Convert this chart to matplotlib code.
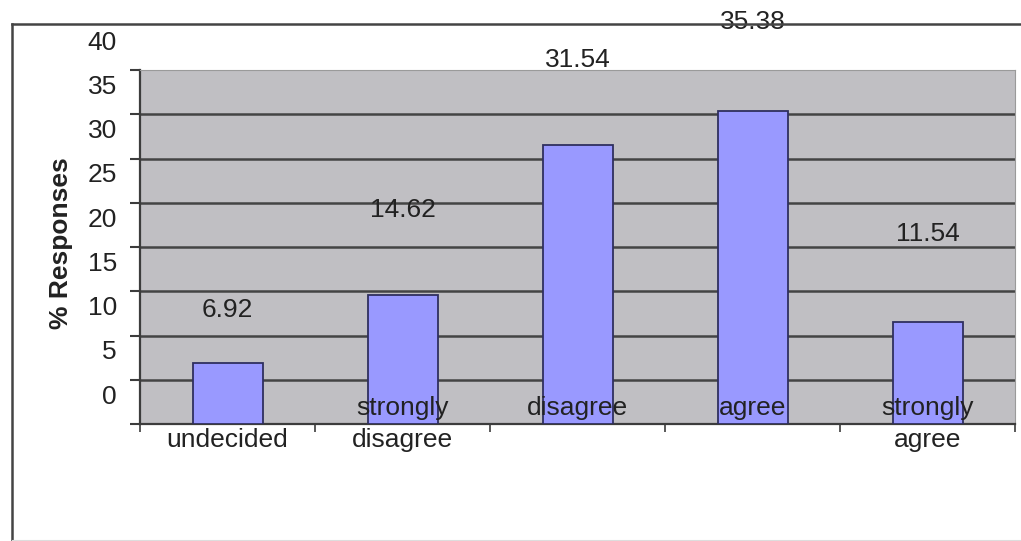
import numpy as np
import matplotlib
matplotlib.use('Agg')
import matplotlib.pyplot as plt
from matplotlib.lines import Line2D
from matplotlib.transforms import blended_transform_factory

# survey responses (% of respondents)
categories = ['undecided', 'strongly\ndisagree', 'disagree', 'agree', 'strongly\nagree']
responses = [6.92, 14.62, 31.54, 35.38, 11.54]
yticks = [0, 5, 10, 15, 20, 25, 30, 35, 40]

# label layout (data units above each bar / around the axis)
value_offsets = [6.0, 9.6, 9.6, 10.0, 9.9]
cat_label_y = [-1.8, 0.0, 1.8, 1.8, 0.0]

plt.rcParams['font.family'] = ['Liberation Sans', 'DejaVu Sans']

W, H = 1021, 541
fig = plt.figure(figsize=(W / 100, H / 100), dpi=100)
ax = fig.add_axes([140 / W, (H - 424) / H, 875 / W, 354 / H])

x = np.arange(len(categories))
ax.set_facecolor('#c0bfc3')
ax.bar(x, responses, width=0.4, color='#9999ff', edgecolor='#2f2f5f',
       linewidth=1.3, zorder=3)

ax.set_xlim(-0.5, len(categories) - 0.5)
ax.set_ylim(0, 40)
for v in yticks[1:-1]:
    ax.axhline(v, color='#444444', lw=1.8, zorder=2)

for s in ['top', 'right']:
    ax.spines[s].set_color('#9a9a9a')
    ax.spines[s].set_linewidth(0.8)
for s in ['left', 'bottom']:
    ax.spines[s].set_color('#3c3c3c')
    ax.spines[s].set_linewidth(1.6)

ax.set_yticks(yticks)
ax.set_yticklabels([])
ax.tick_params(axis='y', direction='out', length=7, width=1.5, color='#3c3c3c')
ax.set_xticks(np.arange(len(categories) + 1) - 0.5)
ax.set_xticklabels([])
ax.tick_params(axis='x', direction='out', length=6, width=1.2, color='#3c3c3c')

# y tick labels sit a little above their gridlines
ytrans = blended_transform_factory(fig.transFigure, ax.transData)
for v in yticks:
    ax.text(117 / W, v + 3.1, str(v), transform=ytrans, ha='right',
            va='center', fontsize=19, color='#222222', clip_on=False)

fig.text(61 / W, (H - 243) / H, '% Responses', rotation=90, ha='center',
         va='center', fontsize=19, fontweight='bold', color='#222222')

for xi, v, off in zip(x, responses, value_offsets):
    ax.text(xi, v + off, f'{v:.2f}', ha='center', va='center', fontsize=19,
            color='#222222', clip_on=False)

for xi, lab, ly in zip(x, categories, cat_label_y):
    ax.text(xi, ly, lab, ha='center', va='center', fontsize=19,
            color='#222222', linespacing=1.4, clip_on=False, zorder=4)

# outer chart frame
fig.add_artist(Line2D([12 / W, 1.0], [(H - 24) / H] * 2, color='#444444', lw=1.8))
fig.add_artist(Line2D([12 / W, 12 / W], [0, (H - 24) / H], color='#444444', lw=1.8))
fig.add_artist(Line2D([12 / W, 1.0], [1 / H, 1 / H], color='#dddddd', lw=0.8))

fig.savefig('out.png', dpi=100)
